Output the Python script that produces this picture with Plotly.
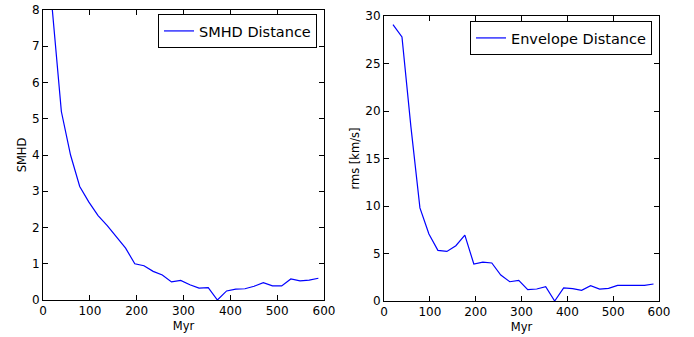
import plotly.graph_objects as go

myr = [19.6, 39.2, 58.8, 78.4, 98.0, 117.6, 137.2, 156.8, 176.4, 196.0,
       215.6, 235.2, 254.8, 274.4, 294.0, 313.6, 333.2, 352.8, 372.4, 392.0,
       411.6, 431.2, 450.8, 470.4, 490.0, 509.6, 529.2, 548.8, 568.4, 588.0]

smhd = [8.05, 5.2, 4.0, 3.13, 2.7, 2.33, 2.05, 1.73, 1.43, 1.0,
        0.945, 0.79, 0.69, 0.5, 0.54, 0.42, 0.33, 0.34, 0.0, 0.25,
        0.3, 0.31, 0.38, 0.48, 0.39, 0.39, 0.58, 0.53, 0.55, 0.6]

envelope = [29.1, 27.8, 18.3, 9.8, 7.05, 5.33, 5.22, 5.82, 6.94, 3.89,
            4.1, 4.0, 2.73, 2.03, 2.17, 1.19, 1.26, 1.5, 0.0, 1.37,
            1.3, 1.12, 1.61, 1.26, 1.33, 1.65, 1.65, 1.65, 1.65, 1.79]

x_ticks = [0, 100, 200, 300, 400, 500, 600]
y1_ticks = [0, 1, 2, 3, 4, 5, 6, 7, 8]
y2_ticks = [0, 5, 10, 15, 20, 25, 30]

FONT = "DejaVu Sans"
W, H = 694, 337

fig = go.Figure()
fig.add_trace(go.Scatter(x=myr, y=smhd, mode="lines", name="SMHD Distance",
                         line=dict(color="#0000ff", width=1.2),
                         xaxis="x", yaxis="y", legend="legend"))
fig.add_trace(go.Scatter(x=myr, y=envelope, mode="lines", name="Envelope Distance",
                         line=dict(color="#0000ff", width=1.2),
                         xaxis="x2", yaxis="y2", legend="legend2"))

axis_common = dict(showgrid=False, zeroline=False, showline=True, linecolor="black",
                   linewidth=1, mirror="allticks", ticks="inside", ticklen=5,
                   tickcolor="black", automargin=False,
                   tickfont=dict(family=FONT, size=12, color="black"),
                   title_font=dict(family=FONT, size=11.5, color="black"))

def xd(a, b):
    return [a / W, b / W]

def yd(top, bottom):
    return [1 - bottom / H, 1 - top / H]

fig.update_layout(
    width=W, height=H,
    margin=dict(l=0, r=0, t=0, b=0),
    paper_bgcolor="white", plot_bgcolor="white",
    font=dict(family=FONT, color="black"),
    xaxis=dict(axis_common, domain=xd(43, 324), range=[0, 600], tickvals=x_ticks,
               anchor="y", title=dict(text="Myr", standoff=4)),
    yaxis=dict(axis_common, domain=yd(10, 300), range=[0, 8], tickvals=y1_ticks,
               anchor="x", title=dict(text="SMHD", standoff=2)),
    xaxis2=dict(axis_common, domain=xd(384, 659), range=[0, 600], tickvals=x_ticks,
                anchor="y2", title=dict(text="Myr", standoff=4)),
    yaxis2=dict(axis_common, domain=yd(16, 301), range=[0, 30], tickvals=y2_ticks,
                anchor="x2", title=dict(text="rms [km/s]", standoff=3)),
    legend=dict(x=317 / W, y=1 - 14 / H, xanchor="right", yanchor="top",
                bordercolor="black", borderwidth=1, bgcolor="white",
                font=dict(family=FONT, size=14.5, color="black"),
                itemwidth=30, tracegroupgap=0),
    legend2=dict(x=652 / W, y=1 - 21 / H, xanchor="right", yanchor="top",
                 bordercolor="black", borderwidth=1, bgcolor="white",
                 font=dict(family=FONT, size=14.5, color="black"),
                 itemwidth=30, tracegroupgap=0),
    showlegend=True,
)

fig.write_html("out.html")
